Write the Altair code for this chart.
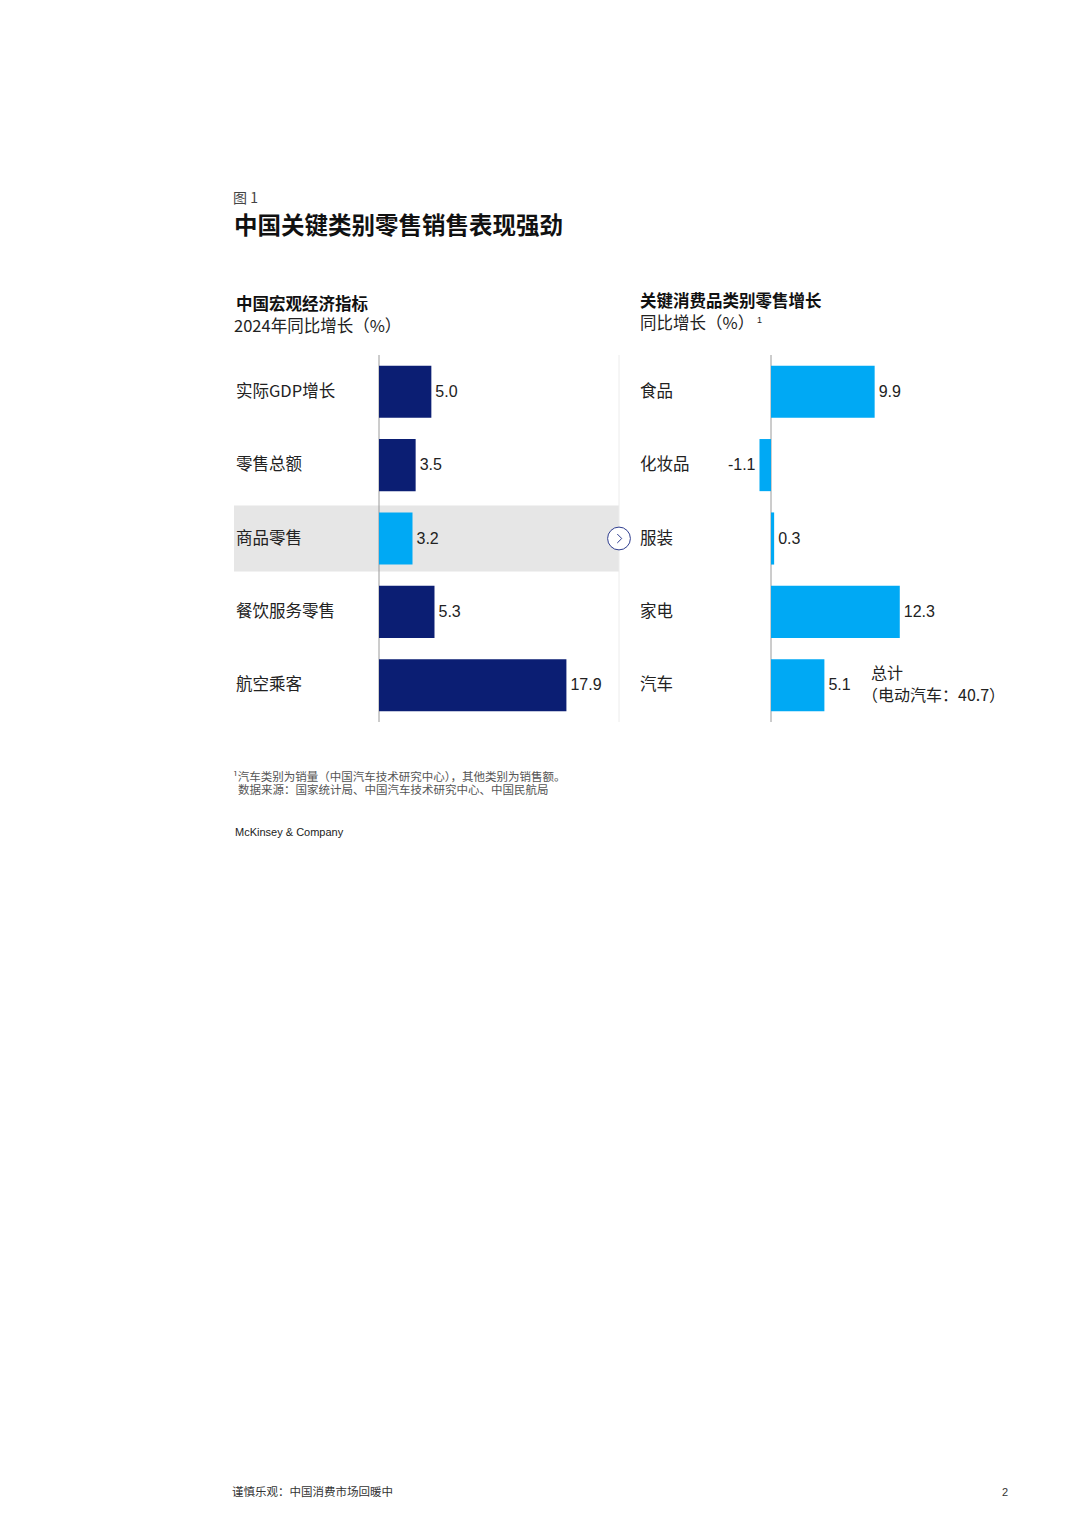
import altair as alt
import pandas as pd

# left panel: macro indicators (2024 yoy %)
macro_labels = ["实际GDP增长", "零售总额", "商品零售", "餐饮服务零售", "航空乘客"]
macro_values = [5.0, 3.5, 3.2, 5.3, 17.9]
macro_text = ["5.0", "3.5", "3.2", "5.3", "17.9"]

# right panel: key consumer categories (yoy %)
cat_labels = ["食品", "化妆品", "服装", "家电", "汽车"]
cat_values = [9.9, -1.1, 0.3, 12.3, 5.1]
cat_text = ["9.9", "-1.1", "0.3", "12.3", "5.1"]

HIGHLIGHT = 2  # 商品零售 row

NAVY = "#0b1e73"
CYAN = "#00a9f4"
CJK = "Noto Sans CJK SC"
NUM = "Liberation Sans"

left = pd.DataFrame({"row": range(5), "label": macro_labels, "v": macro_values, "t": macro_text})
right = pd.DataFrame({"row": range(5), "label": cat_labels, "v": cat_values, "t": cat_text})
one = pd.DataFrame({"z": [0]})

yscale = alt.Scale(type="band", domain=[0, 1, 2, 3, 4], range=[347, 714],
                   paddingInner=0.29, paddingOuter=0.145)
Y = alt.Y("row:O", scale=yscale, axis=None)


def xs(zero_px):
    return alt.Scale(domain=[0, 20], range=[zero_px, zero_px + 209.4], nice=False, zero=False)


L_SCALE = xs(371)
R_SCALE = xs(763)


def note(txt, x, y, size, weight="normal", color="#222", font=CJK):
    return alt.Chart(one).mark_text(
        text=txt, align="left", baseline="middle", font=font,
        fontSize=size, fontWeight=weight, color=color
    ).encode(x=alt.value(x - 8), y=alt.value(y - 8))


# highlight band behind 商品零售
highlight = alt.Chart(left[left.row == HIGHLIGHT]).mark_bar(size=66, color="#e6e6e6").encode(
    y=Y, x=alt.value(226), x2=alt.value(611)
)

separator = alt.Chart(one).mark_rule(color="#ececec", strokeWidth=1).encode(
    x=alt.value(611), y=alt.value(347), y2=alt.value(714)
)

left_zero = alt.Chart(one).mark_rule(color="#9a9a9a", strokeWidth=1).encode(
    x=alt.X("z:Q", scale=L_SCALE, axis=None), y=alt.value(347), y2=alt.value(714)
)
right_zero = alt.Chart(one).mark_rule(color="#9a9a9a", strokeWidth=1).encode(
    x=alt.X("z:Q", scale=R_SCALE, axis=None), y=alt.value(347), y2=alt.value(714)
)

left_bars = alt.Chart(left).mark_bar().encode(
    y=Y,
    x=alt.X("v:Q", scale=L_SCALE, axis=None, stack=None),
    x2=alt.X2(datum=0),
    color=alt.condition(alt.datum.row == HIGHLIGHT, alt.value(CYAN), alt.value(NAVY)),
)
right_bars = alt.Chart(right).mark_bar(color=CYAN).encode(
    y=Y,
    x=alt.X("v:Q", scale=R_SCALE, axis=None, stack=None),
    x2=alt.X2(datum=0),
)

left_vals = alt.Chart(left).mark_text(align="left", dx=4, font=NUM, fontSize=16, color="#222").encode(
    y=Y, x=alt.X("v:Q", scale=L_SCALE, axis=None), text="t:N"
)
right_pos = alt.Chart(right[right.v >= 0]).mark_text(align="left", dx=4, font=NUM, fontSize=16, color="#222").encode(
    y=Y, x=alt.X("v:Q", scale=R_SCALE, axis=None), text="t:N"
)
right_neg = alt.Chart(right[right.v < 0]).mark_text(align="right", dx=-4, font=NUM, fontSize=16, color="#222").encode(
    y=Y, x=alt.X("v:Q", scale=R_SCALE, axis=None), text="t:N"
)

left_cats = alt.Chart(left).mark_text(align="left", font=CJK, fontSize=16.5, color="#222").encode(
    y=Y, x=alt.value(228), text="label:N"
)
right_cats = alt.Chart(right).mark_text(align="left", font=CJK, fontSize=16.5, color="#222").encode(
    y=Y, x=alt.value(632), text="label:N"
)

circle = alt.Chart(left[left.row == HIGHLIGHT]).mark_point(
    shape="circle", size=520, fill="white", stroke="#2e3d8f", strokeWidth=1, opacity=1
).encode(y=Y, x=alt.value(611))
chevron = alt.Chart(left[left.row == HIGHLIGHT]).mark_point(
    shape="M-0.25,-0.5L0.25,0L-0.25,0.5", size=320, stroke="#2e3d8f", strokeWidth=1, opacity=1
).encode(y=Y, x=alt.value(611.5))

texts = [
    note("图 1", 233, 199, 14, color="#444"),
    note("中国关键类别零售销售表现强劲", 234, 227, 23.5, weight="bold", color="#111"),
    note("中国宏观经济指标", 236, 305, 16.5, weight="bold", color="#111"),
    note("2024年同比增长（%）", 234, 327, 16.5),
    note("关键消费品类别零售增长", 640, 302, 16.5, weight="bold", color="#111"),
    note("同比增长（%）", 640, 324, 16.5),
    note("1", 757, 320, 9, font=NUM),
    note("总计", 871, 674, 16),
    note("（电动汽车：40.7）", 862, 696, 16),
    note("¹汽车类别为销量（中国汽车技术研究中心），其他类别为销售额。", 233, 778, 11.5, color="#555"),
    note("数据来源：国家统计局、中国汽车技术研究中心、中国民航局", 238, 791, 11.5, color="#555"),
    note("McKinsey & Company", 235, 833, 11, color="#222", font=NUM),
    note("谨慎乐观：中国消费市场回暖中", 232, 1493, 11.5, color="#333"),
    note("2", 1002, 1493, 11, color="#333", font=NUM),
]

chart = alt.layer(
    highlight, separator, left_zero, right_zero, left_bars, right_bars,
    left_vals, right_pos, right_neg, left_cats, right_cats, circle, chevron, *texts
).resolve_scale(x="independent").properties(
    width=1064, height=1511, autosize=alt.AutoSizeParams(type="none"), padding=0,
    background="white"
).configure_view(stroke=None)

chart.save("out.html", embed_options={"renderer": "svg", "actions": False})
